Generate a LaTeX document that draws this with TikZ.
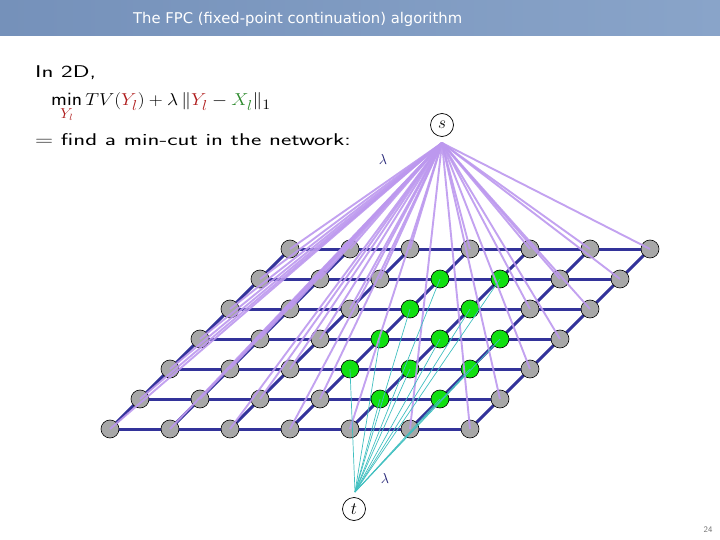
\documentclass[tikz,border=0pt]{standalone}
\usepackage{fontspec}
\usepackage{amsmath}
\usepackage{graphicx}
\newfontfamily\titlefont{DejaVu Sans}
\definecolor{gridblue}{HTML}{33339A}
\definecolor{purp}{HTML}{BC98EE}
\definecolor{tealc}{HTML}{40BFC0}
\definecolor{nodegray}{HTML}{A8A8A8}
\definecolor{nodegreen}{HTML}{11E011}
\definecolor{redY}{HTML}{B01E1E}
\definecolor{greenX}{HTML}{2E8B2E}
\definecolor{navy}{HTML}{1A1A70}
\definecolor{hdrleft}{HTML}{7591BA}
\definecolor{hdrright}{HTML}{89A4C9}
\pgfdeclarelayer{bg}
\pgfdeclarelayer{fg}
\pgfsetlayers{bg,main,fg}
\makeatletter
\newcommand\IfGreen[4]{\edef\my@tmp{,#1-#2,}%
  \expandafter\in@\expandafter{\my@tmp}{,3-5,4-5,3-4,4-4,3-3,4-3,5-3,3-2,4-2,5-2,4-1,5-1,}%
  \ifin@ #3\else #4\fi}
\makeatother
\begin{document}
\begin{tikzpicture}[x=1pt,y=-1pt,
  edge/.style={draw=gridblue,line width=3pt},
  vert/.style={circle,draw=black,line width=0.6pt,minimum size=18pt,inner sep=0pt},
  srcline/.style={draw=purp,line width=1.9pt,opacity=0.9},
  snkline/.style={draw=tealc,line width=0.7pt},
  term/.style={circle,draw=black,line width=0.7pt,minimum size=23pt,inner sep=0pt,font=\fontsize{18}{18}\selectfont},
  lam/.style={text=navy,font=\fontsize{15}{15}\selectfont},
  body/.style={anchor=base west,inner sep=0pt,font=\sffamily\fontsize{17}{20}\selectfont}]
\useasboundingbox (0,0) rectangle (720,540);
\shade[left color=hdrleft,right color=hdrright] (0,0) rectangle (720,36);
\node[anchor=base west,text=white,inner sep=0pt,font=\titlefont\fontsize{14.8}{15}\selectfont] (title) at (133,24) {The FPC (fixed-point continuation) algorithm};
\node[body] (l1) at (35,78) {\scalebox{1.45}[1]{In 2D,}};
\node[body,font=\sffamily\fontsize{19}{22}\selectfont] (l2) at (51,106) {\scalebox{1.12}[1]{$\displaystyle\mathop{\mathsf{min}}\limits_{\color{redY}Y_l} TV({\color{redY}Y_l}) + \lambda\,\|{\color{redY}Y_l} - {\color{greenX}X_l}\|_1$}};
\node[body] (l3) at (35,146) {\scalebox{1.45}[1]{$=$ find a min-cut in the network:}};
% nodes
\foreach \j in {0,...,6}{\foreach \i in {0,...,6}{%
  \IfGreen{\i}{\j}%
   {\node[vert,fill=nodegreen] (n-\i-\j) at (110+60*\i+30*\j, 429-30*\j) {};}%
   {\node[vert,fill=nodegray] (n-\i-\j) at (110+60*\i+30*\j, 429-30*\j) {};}%
}}
% grid edges
\begin{pgfonlayer}{bg}
\foreach \j in {0,...,6}{\foreach \i in {0,...,5}{\pgfmathtruncatemacro\k{\i+1}%
  \draw[edge] (n-\i-\j.center) -- (n-\k-\j.center);}}
\foreach \j in {0,...,5}{\foreach \i in {0,...,6}{\pgfmathtruncatemacro\k{\j+1}%
  \draw[edge] (n-\i-\j.center) -- (n-\i-\k.center);}}
\end{pgfonlayer}
% terminals
\node[term] (s) at (442,125) {$s$};
\node[term] (t) at (354,509) {$t$};
\coordinate (S0) at (442,143);
\coordinate (T0) at (355,492);
\node[lam] (lams) at (383,160) {$\lambda$};
\node[lam] (lamt) at (385,478) {$\lambda$};
\begin{pgfonlayer}{fg}
\foreach \j in {0,...,6}{\foreach \i in {0,...,6}{%
  \IfGreen{\i}{\j}%
   {\draw[snkline] (T0) -- (n-\i-\j.center);}%
   {\draw[srcline] (S0) -- (n-\i-\j.center);}%
}}
\end{pgfonlayer}
\node[text=black!55,font=\sffamily\fontsize{8.5}{9}\selectfont] (page) at (708,530) {24};
\end{tikzpicture}
\end{document}
